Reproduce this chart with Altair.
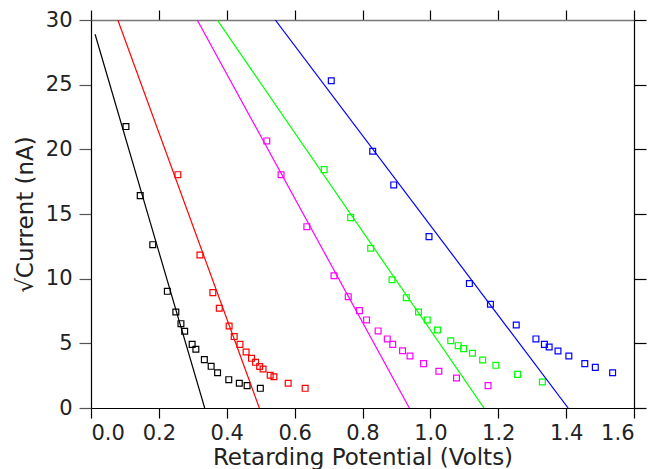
import altair as alt
import pandas as pd

series_names = ["black", "red", "magenta", "green", "blue"]
series_colors = ["#000000", "#ff0000", "#ff00ff", "#00ff00", "#0000ff"]

black_x = [0.103, 0.145, 0.182, 0.225, 0.250, 0.265, 0.276, 0.298, 0.309, 0.334, 0.354, 0.373, 0.406, 0.437, 0.460, 0.499]
black_y = [21.76, 16.42, 12.63, 9.02, 7.42, 6.52, 5.93, 4.92, 4.54, 3.74, 3.22, 2.73, 2.19, 1.91, 1.73, 1.52]

red_x = [0.256, 0.321, 0.359, 0.378, 0.407, 0.422, 0.439, 0.457, 0.473, 0.485, 0.497, 0.507, 0.528, 0.539, 0.581, 0.631]
red_y = [18.04, 11.83, 8.92, 7.71, 6.34, 5.52, 4.92, 4.33, 3.84, 3.53, 3.21, 3.02, 2.53, 2.42, 1.91, 1.52]

magenta_x = [0.518, 0.560, 0.636, 0.716, 0.758, 0.791, 0.812, 0.846, 0.873, 0.889, 0.918, 0.940, 0.980, 1.025, 1.077, 1.170]
magenta_y = [20.65, 18.04, 14.02, 10.23, 8.61, 7.53, 6.81, 5.96, 5.34, 4.92, 4.43, 4.02, 3.43, 2.84, 2.32, 1.73]

green_x = [0.687, 0.765, 0.824, 0.887, 0.929, 0.965, 0.991, 1.021, 1.060, 1.082, 1.098, 1.124, 1.154, 1.193, 1.257, 1.330]
green_y = [18.43, 14.72, 12.35, 9.92, 8.53, 7.42, 6.81, 6.03, 5.20, 4.82, 4.59, 4.23, 3.71, 3.30, 2.60, 2.01]

blue_x = [0.708, 0.830, 0.892, 0.996, 1.115, 1.177, 1.253, 1.311, 1.336, 1.350, 1.376, 1.408, 1.455, 1.486, 1.537]
blue_y = [25.3, 19.85, 17.25, 13.25, 9.62, 8.02, 6.42, 5.34, 4.92, 4.72, 4.41, 4.02, 3.43, 3.14, 2.73]

# fitted straight lines: (x at top, y at top) -> (x at zero crossing, 0)
fit_x_start = [0.012, 0.079, 0.313, 0.372, 0.543]
fit_y_start = [28.9, 30.0, 30.0, 30.0, 30.0]
fit_x_end = [0.335, 0.496, 0.938, 1.158, 1.406]
fit_y_end = [0.0, 0.0, 0.0, 0.0, 0.0]

x_ticks = [0.0, 0.2, 0.4, 0.6, 0.8, 1.0, 1.2, 1.4, 1.6]
y_ticks = [0, 5, 10, 15, 20, 25, 30]

pts_x = [black_x, red_x, magenta_x, green_x, blue_x]
pts_y = [black_y, red_y, magenta_y, green_y, blue_y]

rows = []
for name, xs, ys in zip(series_names, pts_x, pts_y):
    for xv, yv in zip(xs, ys):
        rows.append({"series": name, "x": xv, "y": yv})
points_df = pd.DataFrame(rows)

line_rows = []
for i, name in enumerate(series_names):
    line_rows.append({"series": name, "x": fit_x_start[i], "y": fit_y_start[i], "o": 0})
    line_rows.append({"series": name, "x": fit_x_end[i], "y": fit_y_end[i], "o": 1})
lines_df = pd.DataFrame(line_rows)

FONT = "DejaVu Sans"
xscale = alt.Scale(domain=[0, 1.6], nice=False, zero=False)
yscale = alt.Scale(domain=[0, 30], nice=False, zero=False)
color = alt.Color("series:N", scale=alt.Scale(domain=series_names, range=series_colors), legend=None)

points = alt.Chart(points_df).mark_point(
    shape="square", filled=False, size=34, strokeWidth=1.2, opacity=1
).encode(
    x=alt.X("x:Q", scale=xscale, axis=alt.Axis(
        orient="bottom", values=x_ticks, format=".1f", title="Retarding Potential (Volts)",
        tickSize=10, tickColor="#000000", domainColor="#000000", domainWidth=1.2, tickWidth=1.2,
        labelFont=FONT, labelFontSize=21, labelColor="#222222", labelPadding=4,
        titleFont=FONT, titleFontSize=23, titleFontWeight="normal", titleColor="#222222", titlePadding=3,
        grid=False)),
    y=alt.Y("y:Q", scale=yscale, axis=alt.Axis(
        orient="left", values=y_ticks, format="d", title="√Current (nA)",
        tickSize=12, tickColor="#555555", domainColor="#000000", domainWidth=1.2, tickWidth=1.2,
        labelFont=FONT, labelFontSize=21, labelColor="#222222", labelPadding=7,
        titleFont=FONT, titleFontSize=23, titleFontWeight="normal", titleColor="#222222", titlePadding=8,
        grid=False)),
    color=color,
)

lines = alt.Chart(lines_df).mark_line(strokeWidth=1.2, clip=True).encode(
    x=alt.X("x:Q", scale=xscale, axis=alt.Axis(
        orient="top", values=x_ticks, labels=False, title=None,
        tickSize=10, tickColor="#000000", domainColor="#777777", domainWidth=1.5, tickWidth=1.2,
        grid=False)),
    y=alt.Y("y:Q", scale=yscale, axis=alt.Axis(
        orient="right", values=y_ticks, labels=False, title=None,
        tickSize=12, tickColor="#000000", domainColor="#000000", domainWidth=1.2, tickWidth=1.2,
        grid=False)),
    color=color,
    detail="series:N",
    order="o:Q",
)

chart = alt.layer(points, lines).resolve_axis(x="independent", y="independent").properties(
    width=543,
    height=388,
    padding={"left": 83, "top": 12, "right": 20, "bottom": 61},
    autosize=alt.AutoSizeParams(type="none"),
    background="white",
).configure_view(stroke=None)

chart.save("out.html", embed_options={"renderer": "svg", "actions": False})
